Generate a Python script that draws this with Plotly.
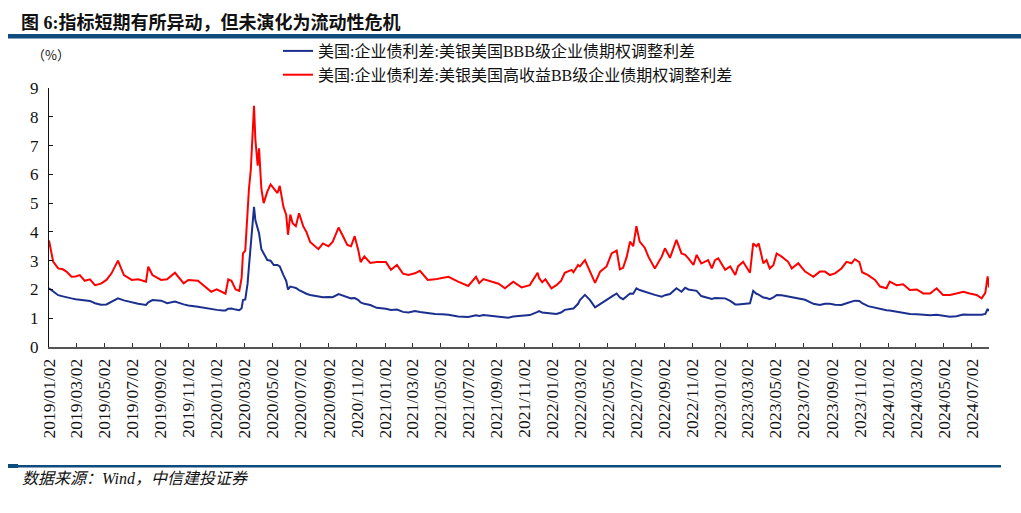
import plotly.graph_objects as go

# ---------------- data ----------------
dates = [
    # 2019
    "2019-01-02", "2019-01-11", "2019-01-22", "2019-02-01", "2019-02-09", "2019-02-20",
    "2019-03-01", "2019-03-10", "2019-03-21", "2019-04-01", "2019-04-12", "2019-04-25",
    "2019-05-07", "2019-05-18", "2019-06-01", "2019-06-14", "2019-07-01", "2019-07-15",
    "2019-08-01", "2019-08-06", "2019-08-15", "2019-09-03", "2019-09-16", "2019-10-03",
    "2019-10-22", "2019-11-01", "2019-11-22", "2019-12-06", "2019-12-21",
    # 2020
    "2020-01-02", "2020-01-15", "2020-01-21", "2020-01-27", "2020-02-03", "2020-02-12",
    "2020-02-20", "2020-02-25", "2020-02-28", "2020-03-04", "2020-03-09", "2020-03-12",
    "2020-03-16", "2020-03-19", "2020-03-23", "2020-03-26", "2020-03-31", "2020-04-03",
    "2020-04-08", "2020-04-13", "2020-04-21", "2020-04-28", "2020-05-05", "2020-05-13",
    "2020-05-18", "2020-05-26", "2020-06-01", "2020-06-05", "2020-06-10", "2020-06-15",
    "2020-06-22", "2020-06-29", "2020-07-08", "2020-07-15", "2020-07-23", "2020-08-03",
    "2020-08-10", "2020-08-20", "2020-09-01", "2020-09-10", "2020-09-23", "2020-10-01",
    "2020-10-12", "2020-10-20", "2020-10-28", "2020-11-05", "2020-11-10", "2020-11-18",
    "2020-12-01", "2020-12-15",
    # 2021
    "2021-01-04", "2021-01-15", "2021-01-28", "2021-02-10", "2021-02-22", "2021-03-08",
    "2021-03-19", "2021-04-05", "2021-04-21", "2021-05-06", "2021-05-20", "2021-06-10",
    "2021-06-25", "2021-07-02", "2021-07-19", "2021-07-26", "2021-08-04", "2021-08-22",
    "2021-09-06", "2021-09-20", "2021-09-27", "2021-10-08", "2021-10-26", "2021-11-13",
    "2021-11-30", "2021-12-03", "2021-12-10", "2021-12-17", "2021-12-30",
    # 2022
    "2022-01-10", "2022-01-20", "2022-01-28", "2022-02-12", "2022-02-16", "2022-02-26",
    "2022-03-02", "2022-03-13", "2022-03-24", "2022-04-04", "2022-04-15", "2022-04-29",
    "2022-05-10", "2022-05-21", "2022-05-28", "2022-06-04", "2022-06-12", "2022-06-19",
    "2022-06-26", "2022-07-03", "2022-07-10", "2022-07-21", "2022-07-29", "2022-08-12",
    "2022-08-27", "2022-09-03", "2022-09-14", "2022-09-28", "2022-10-09", "2022-10-17",
    "2022-10-24", "2022-11-04", "2022-11-11", "2022-11-21", "2022-12-06", "2022-12-14",
    "2022-12-21", "2022-12-28",
    # 2023
    "2023-01-12", "2023-01-23", "2023-02-03", "2023-02-09", "2023-02-20", "2023-03-07",
    "2023-03-14", "2023-03-21", "2023-03-26", "2023-04-05", "2023-04-12", "2023-04-19",
    "2023-04-27", "2023-05-04", "2023-05-15", "2023-05-29", "2023-06-06", "2023-06-20",
    "2023-07-05", "2023-07-23", "2023-08-06", "2023-08-17", "2023-08-28", "2023-09-08",
    "2023-09-22", "2023-10-03", "2023-10-14", "2023-10-21", "2023-10-31", "2023-11-06",
    "2023-11-19", "2023-12-04", "2023-12-15", "2023-12-29",
    # 2024
    "2024-01-05", "2024-01-20", "2024-02-03", "2024-02-18", "2024-03-04", "2024-03-18",
    "2024-04-02", "2024-04-16", "2024-04-30", "2024-05-15", "2024-05-29", "2024-06-13",
    "2024-06-27", "2024-07-12", "2024-07-23", "2024-07-31", "2024-08-05", "2024-08-08",
]

# 美银美国BBB级企业债期权调整利差 (%)
bbb_spread = [
    # 2019
    2.04, 1.92, 1.80, 1.76, 1.72, 1.69,
    1.66, 1.64, 1.62, 1.60, 1.52, 1.47,
    1.48, 1.58, 1.69, 1.62, 1.55, 1.50,
    1.46, 1.55, 1.63, 1.61, 1.52, 1.58,
    1.48, 1.44, 1.40, 1.36, 1.31,
    # 2020
    1.29, 1.27, 1.27, 1.33, 1.34, 1.30,
    1.28, 1.35, 1.63, 1.65, 2.20, 2.80,
    3.50, 4.20, 4.87, 4.40, 4.07, 3.95,
    3.40, 3.25, 3.02, 3.00, 2.85, 2.85,
    2.80, 2.50, 2.30, 2.00, 2.10, 2.08,
    2.05, 1.98, 1.90, 1.85, 1.81, 1.78,
    1.74, 1.73, 1.74, 1.73, 1.84, 1.80,
    1.72, 1.69, 1.70, 1.63, 1.55, 1.50,
    1.46, 1.36,
    # 2021
    1.33, 1.29, 1.30, 1.22, 1.20, 1.25,
    1.22, 1.18, 1.15, 1.14, 1.12, 1.06,
    1.03, 1.04, 1.10, 1.08, 1.11, 1.08,
    1.06, 1.04, 1.02, 1.06, 1.08, 1.11,
    1.22, 1.25, 1.20, 1.19, 1.16,
    # 2022
    1.15, 1.20, 1.29, 1.33, 1.34, 1.50,
    1.63, 1.81, 1.63, 1.38, 1.50, 1.66,
    1.75, 1.86, 1.72, 1.66, 1.75, 1.86,
    1.85, 2.04, 1.98, 1.92, 1.88, 1.81,
    1.75, 1.80, 1.84, 2.04, 1.92, 2.06,
    2.00, 1.98, 1.95, 1.77, 1.69, 1.67,
    1.70, 1.70,
    # 2023
    1.69, 1.60, 1.48, 1.48, 1.50, 1.52,
    1.95, 1.85, 1.82, 1.72, 1.70, 1.66,
    1.72, 1.81, 1.80, 1.75, 1.72, 1.68,
    1.64, 1.50, 1.46, 1.50, 1.50, 1.47,
    1.46, 1.52, 1.56, 1.61, 1.60, 1.52,
    1.42, 1.36, 1.31, 1.28,
    # 2024
    1.27, 1.23, 1.20, 1.15, 1.14, 1.12,
    1.10, 1.12, 1.08, 1.05, 1.07, 1.13,
    1.12, 1.12, 1.12, 1.15, 1.32, 1.25,
]

# 美银美国高收益BB级企业债期权调整利差 (%)
bb_spread = [
    # 2019
    3.70, 2.97, 2.73, 2.70, 2.62, 2.44,
    2.45, 2.50, 2.30, 2.35, 2.15, 2.20,
    2.33, 2.56, 3.00, 2.50, 2.33, 2.35,
    2.27, 2.79, 2.50, 2.33, 2.35, 2.58,
    2.21, 2.33, 2.30, 2.10, 1.92,
    # 2020
    2.00, 1.88, 1.85, 2.35, 2.30, 2.00,
    1.95, 2.40, 3.25, 3.35, 4.90, 5.50,
    6.15, 7.00, 8.38, 7.20, 6.30, 6.90,
    5.50, 5.00, 5.40, 5.65, 5.50, 5.35,
    5.60, 4.87, 4.60, 3.90, 4.60, 4.30,
    4.20, 4.65, 4.20, 4.00, 3.65, 3.50,
    3.40, 3.60, 3.50, 3.65, 4.15, 3.90,
    3.55, 3.50, 3.85, 3.35, 2.95, 3.15,
    2.92, 2.95,
    # 2021
    2.95, 2.68, 2.85, 2.55, 2.50, 2.56,
    2.65, 2.33, 2.35, 2.40, 2.44, 2.27,
    2.18, 2.12, 2.44, 2.22, 2.36, 2.27,
    2.20, 2.04, 2.12, 2.27, 2.07, 2.15,
    2.58, 2.40, 2.25, 2.35, 2.04,
    # 2022
    2.15, 2.30, 2.58, 2.68, 2.60, 2.85,
    2.80, 3.02, 2.62, 2.23, 2.62, 2.80,
    3.25, 3.35, 2.70, 2.75, 3.14, 3.66,
    3.50, 4.20, 3.66, 3.45, 3.14, 2.73,
    3.14, 3.43, 3.10, 3.72, 3.25, 3.20,
    3.08, 2.85, 3.20, 2.90, 3.02, 2.73,
    3.02, 3.08,
    # 2023
    2.68, 2.80, 2.50, 2.80, 2.96, 2.58,
    3.60, 3.50, 3.60, 2.91, 3.02, 2.73,
    2.85, 3.25, 3.14, 2.96, 2.73, 2.91,
    2.62, 2.44, 2.62, 2.62, 2.50, 2.56,
    2.73, 2.96, 2.91, 3.05, 2.95, 2.60,
    2.50, 2.33, 2.10, 2.04,
    # 2024
    2.27, 2.15, 2.18, 1.98, 2.00, 1.86,
    1.86, 2.04, 1.81, 1.81, 1.86, 1.92,
    1.86, 1.81, 1.69, 1.88, 2.45, 2.07,
]

series_names = [
    "美国:企业债利差:美银美国BBB级企业债期权调整利差",
    "美国:企业债利差:美银美国高收益BB级企业债期权调整利差",
]

tick_dates = [
    "2019-01-02", "2019-03-02", "2019-05-02", "2019-07-02", "2019-09-02", "2019-11-02",
    "2020-01-02", "2020-03-02", "2020-05-02", "2020-07-02", "2020-09-02", "2020-11-02",
    "2021-01-02", "2021-03-02", "2021-05-02", "2021-07-02", "2021-09-02", "2021-11-02",
    "2022-01-02", "2022-03-02", "2022-05-02", "2022-07-02", "2022-09-02", "2022-11-02",
    "2023-01-02", "2023-03-02", "2023-05-02", "2023-07-02", "2023-09-02", "2023-11-02",
    "2024-01-02", "2024-03-02", "2024-05-02", "2024-07-02",
]
tick_labels = [d.replace("-", "/") for d in tick_dates]

assert len(dates) == len(bbb_spread) == len(bb_spread)

# ---------------- layout geometry (pixels) ----------------
W, H = 1021, 513
L, R, T, B = 49, 989, 88, 347  # plot area edges in px


def px_x(px):
    return (px - L) / (R - L)


def px_y(py):
    return (B - py) / (B - T)


SERIF_CJK = "Liberation Serif, 'Noto Sans CJK SC', serif"
RULE = "#0E4C7D"

fig = go.Figure()
fig.add_trace(go.Scatter(x=dates, y=bbb_spread, mode="lines", name=series_names[0],
                         line=dict(color="#1B2F8E", width=2)))
fig.add_trace(go.Scatter(x=dates, y=bb_spread, mode="lines", name=series_names[1],
                         line=dict(color="#FF0000", width=2)))

fig.update_layout(
    width=W, height=H,
    margin=dict(l=L, r=W - R, t=T, b=H - B, pad=0),
    paper_bgcolor="white", plot_bgcolor="white",
    showlegend=True,
    legend=dict(x=px_x(278), y=px_y(34), xanchor="left", yanchor="top",
                font=dict(family=SERIF_CJK, size=16, color="#111"),
                bgcolor="rgba(0,0,0,0)", borderwidth=0, tracegroupgap=0),
    xaxis=dict(type="date", range=["2019-01-02", "2024-08-08"],
               tickmode="array", tickvals=tick_dates, ticktext=tick_labels,
               tickangle=-90, ticks="inside", ticklen=4, tickwidth=1, tickcolor="#333",
               showline=True, linecolor="#555", linewidth=1.5, showgrid=False, zeroline=False,
               tickfont=dict(family="Liberation Serif, serif", size=17.5, color="#111"),
               ticklabelstandoff=3),
    yaxis=dict(range=[0, 9], tickmode="linear", tick0=0, dtick=1,
               ticks="inside", ticklen=4, tickwidth=1, tickcolor="#111",
               showline=True, linecolor="#111", linewidth=1.2, showgrid=False, zeroline=False,
               tickfont=dict(family="Liberation Serif, serif", size=17, color="#111"),
               ticklabelstandoff=6),
)

fig.add_annotation(text="<b>图 6:指标短期有所异动，但未演化为流动性危机</b>",
                   xref="paper", yref="paper", x=px_x(19), y=px_y(22),
                   xanchor="left", yanchor="middle", showarrow=False,
                   font=dict(family=SERIF_CJK, size=18, color="#111"))
fig.add_annotation(text="（%）", xref="paper", yref="paper", x=px_x(30), y=px_y(54),
                   xanchor="left", yanchor="middle", showarrow=False,
                   font=dict(family="'Noto Sans CJK SC', sans-serif", size=13, color="#111"))
fig.add_annotation(text="<i>数据来源：Wind，中信建投证券</i>", xref="paper", yref="paper",
                   x=px_x(20), y=px_y(478), xanchor="left", yanchor="middle", showarrow=False,
                   font=dict(family=SERIF_CJK, size=16, color="#111"))

# header and footer rules
fig.add_shape(type="rect", xref="paper", yref="paper",
              x0=px_x(8), x1=px_x(1021), y0=px_y(38.5), y1=px_y(34),
              fillcolor=RULE, line=dict(width=0), layer="above")
fig.add_shape(type="rect", xref="paper", yref="paper",
              x0=px_x(8), x1=px_x(1001), y0=px_y(467.5), y1=px_y(465),
              fillcolor=RULE, line=dict(width=0), layer="above")
fig.add_shape(type="rect", xref="paper", yref="paper",
              x0=px_x(8), x1=px_x(18), y0=px_y(468), y1=px_y(464),
              fillcolor=RULE, line=dict(width=0), layer="above")

# remove the browser's default page margin so the figure sits at (0, 0)
fig.write_html("out.html", config={"displayModeBar": False},
               post_script="document.body.style.margin='0';")
